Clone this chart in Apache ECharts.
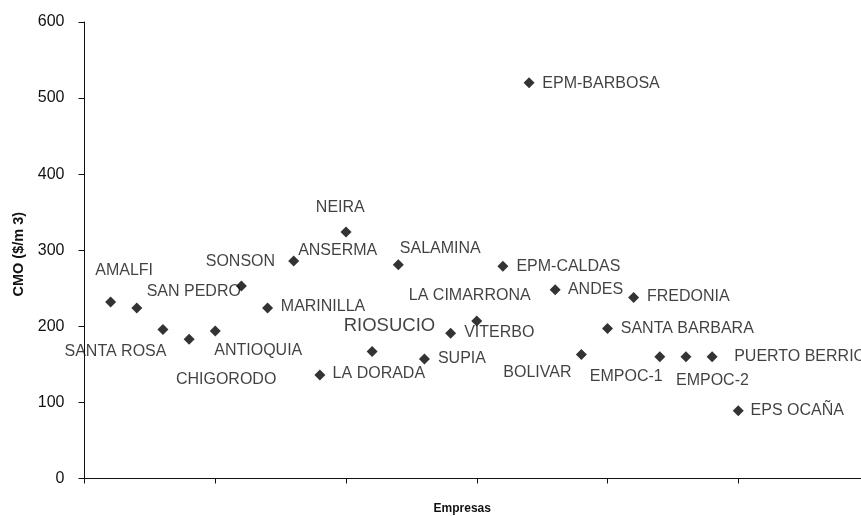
<!DOCTYPE html>
<html>
<head>
<meta charset="utf-8">
<script src="https://cdn.jsdelivr.net/npm/echarts@6/dist/echarts.min.js"></script>
<style>
  html, body { margin: 0; padding: 0; background: #fff; }
  #charts { width: 861px; height: 516px; }
</style>
</head>
<body>
<div id="charts"></div>
<script>
// data
var empresas = ['AMALFI', 'SAN PEDRO', 'SANTA ROSA', 'CHIGORODO', 'ANTIOQUIA', 'SONSON',
  'MARINILLA', 'ANSERMA', 'LA DORADA', 'NEIRA', 'RIOSUCIO', 'SALAMINA', 'SUPIA', 'VITERBO',
  'LA CIMARRONA', 'EPM-CALDAS', 'EPM-BARBOSA', 'ANDES', 'BOLIVAR', 'SANTA BARBARA',
  'FREDONIA', 'EMPOC-1', 'EMPOC-2', 'PUERTO BERRIO', 'EPS OCAÑA'];
var posicion = [1, 2, 3, 4, 5, 6, 7, 8, 9, 10, 11, 12, 13, 14, 15, 16, 17, 18, 19, 20, 21, 22, 23, 24, 25];
var cmo = [232, 224, 196, 183, 194, 253, 224, 286, 136, 324, 167, 281, 157, 191, 207, 279, 520,
  248, 163, 197, 238, 160, 160, 160, 89];
var yTicks = [0, 100, 200, 300, 400, 500, 600];

// where each label sits relative to its marker (label centre, px)
var labelOffset = {
  'AMALFI': [13.5, -31], 'SAN PEDRO': [57, -16], 'SANTA ROSA': [-47.5, 22],
  'CHIGORODO': [37, 40], 'ANTIOQUIA': [43, 19.5], 'SONSON': [-1, -24],
  'MARINILLA': [55.5, -1], 'ANSERMA': [44, -10.6], 'LA DORADA': [59, -1],
  'NEIRA': [-5.7, -24.7], 'RIOSUCIO': [17.3, -26], 'SALAMINA': [42, -15.7],
  'SUPIA': [37.5, 0], 'VITERBO': [48.7, -1], 'LA CIMARRONA': [-7, -25],
  'EPM-CALDAS': [65.5, 0], 'EPM-BARBOSA': [72, 1], 'ANDES': [40.3, -0.7],
  'BOLIVAR': [-44, 17.7], 'SANTA BARBARA': [79.8, 0], 'FREDONIA': [54.7, -1],
  'EMPOC-1': [-33.5, 20], 'EMPOC-2': [26.5, 24], 'PUERTO BERRIO': [88, 0],
  'EPS OCAÑA': [59, 0]
};

var txt = '#111';
var font = 'Liberation Sans, Arial, sans-serif';

var points = empresas.map(function (n, i) {
  return {
    name: n,
    value: [posicion[i], cmo[i]],
    label: {
      offset: labelOffset[n],
      fontSize: n === 'RIOSUCIO' ? 18.5 : 16
    }
  };
});

var myChart = echarts.init(document.getElementById('charts'), null, { width: 861, height: 516 });
var option = {
  animation: false,
  textStyle: { fontFamily: font },
  grid: { left: 84.5, right: -8, top: 22, bottom: 37.5, containLabel: false, outerBoundsMode: 'none' },
  xAxis: {
    type: 'value',
    min: 0,
    max: 30,
    interval: 5,
    name: 'Empresas',
    nameLocation: 'middle',
    nameGap: 24,
    nameTextStyle: { color: txt, fontSize: 12, fontWeight: 'bold', fontFamily: font, padding: [0, 29, 0, 0] },
    axisLine: { lineStyle: { color: txt, width: 1 } },
    axisTick: { show: true, length: 5, lineStyle: { color: txt } },
    axisLabel: { show: false },
    splitLine: { show: false }
  },
  yAxis: {
    type: 'value',
    min: yTicks[0],
    max: yTicks[yTicks.length - 1],
    interval: 100,
    name: 'CMO ($/m 3)',
    nameLocation: 'middle',
    nameGap: 58,
    nameTextStyle: { color: txt, fontSize: 14.5, fontWeight: 'bold', fontFamily: font, padding: [0, 8, 0, 0] },
    axisLine: { show: true, lineStyle: { color: txt, width: 1 } },
    axisTick: { show: true, length: 6, lineStyle: { color: txt } },
    axisLabel: { color: txt, fontSize: 16, margin: 20, fontFamily: font },
    splitLine: { show: false }
  },
  series: [
    {
      type: 'scatter',
      symbol: 'diamond',
      symbolSize: 11,
      itemStyle: { color: '#000' },
      label: {
        show: true,
        position: 'inside',
        formatter: '{b}',
        color: txt,
        fontFamily: font
      },
      data: points
    }
  ]
};
myChart.setOption(option);
</script>
</body>
</html>
